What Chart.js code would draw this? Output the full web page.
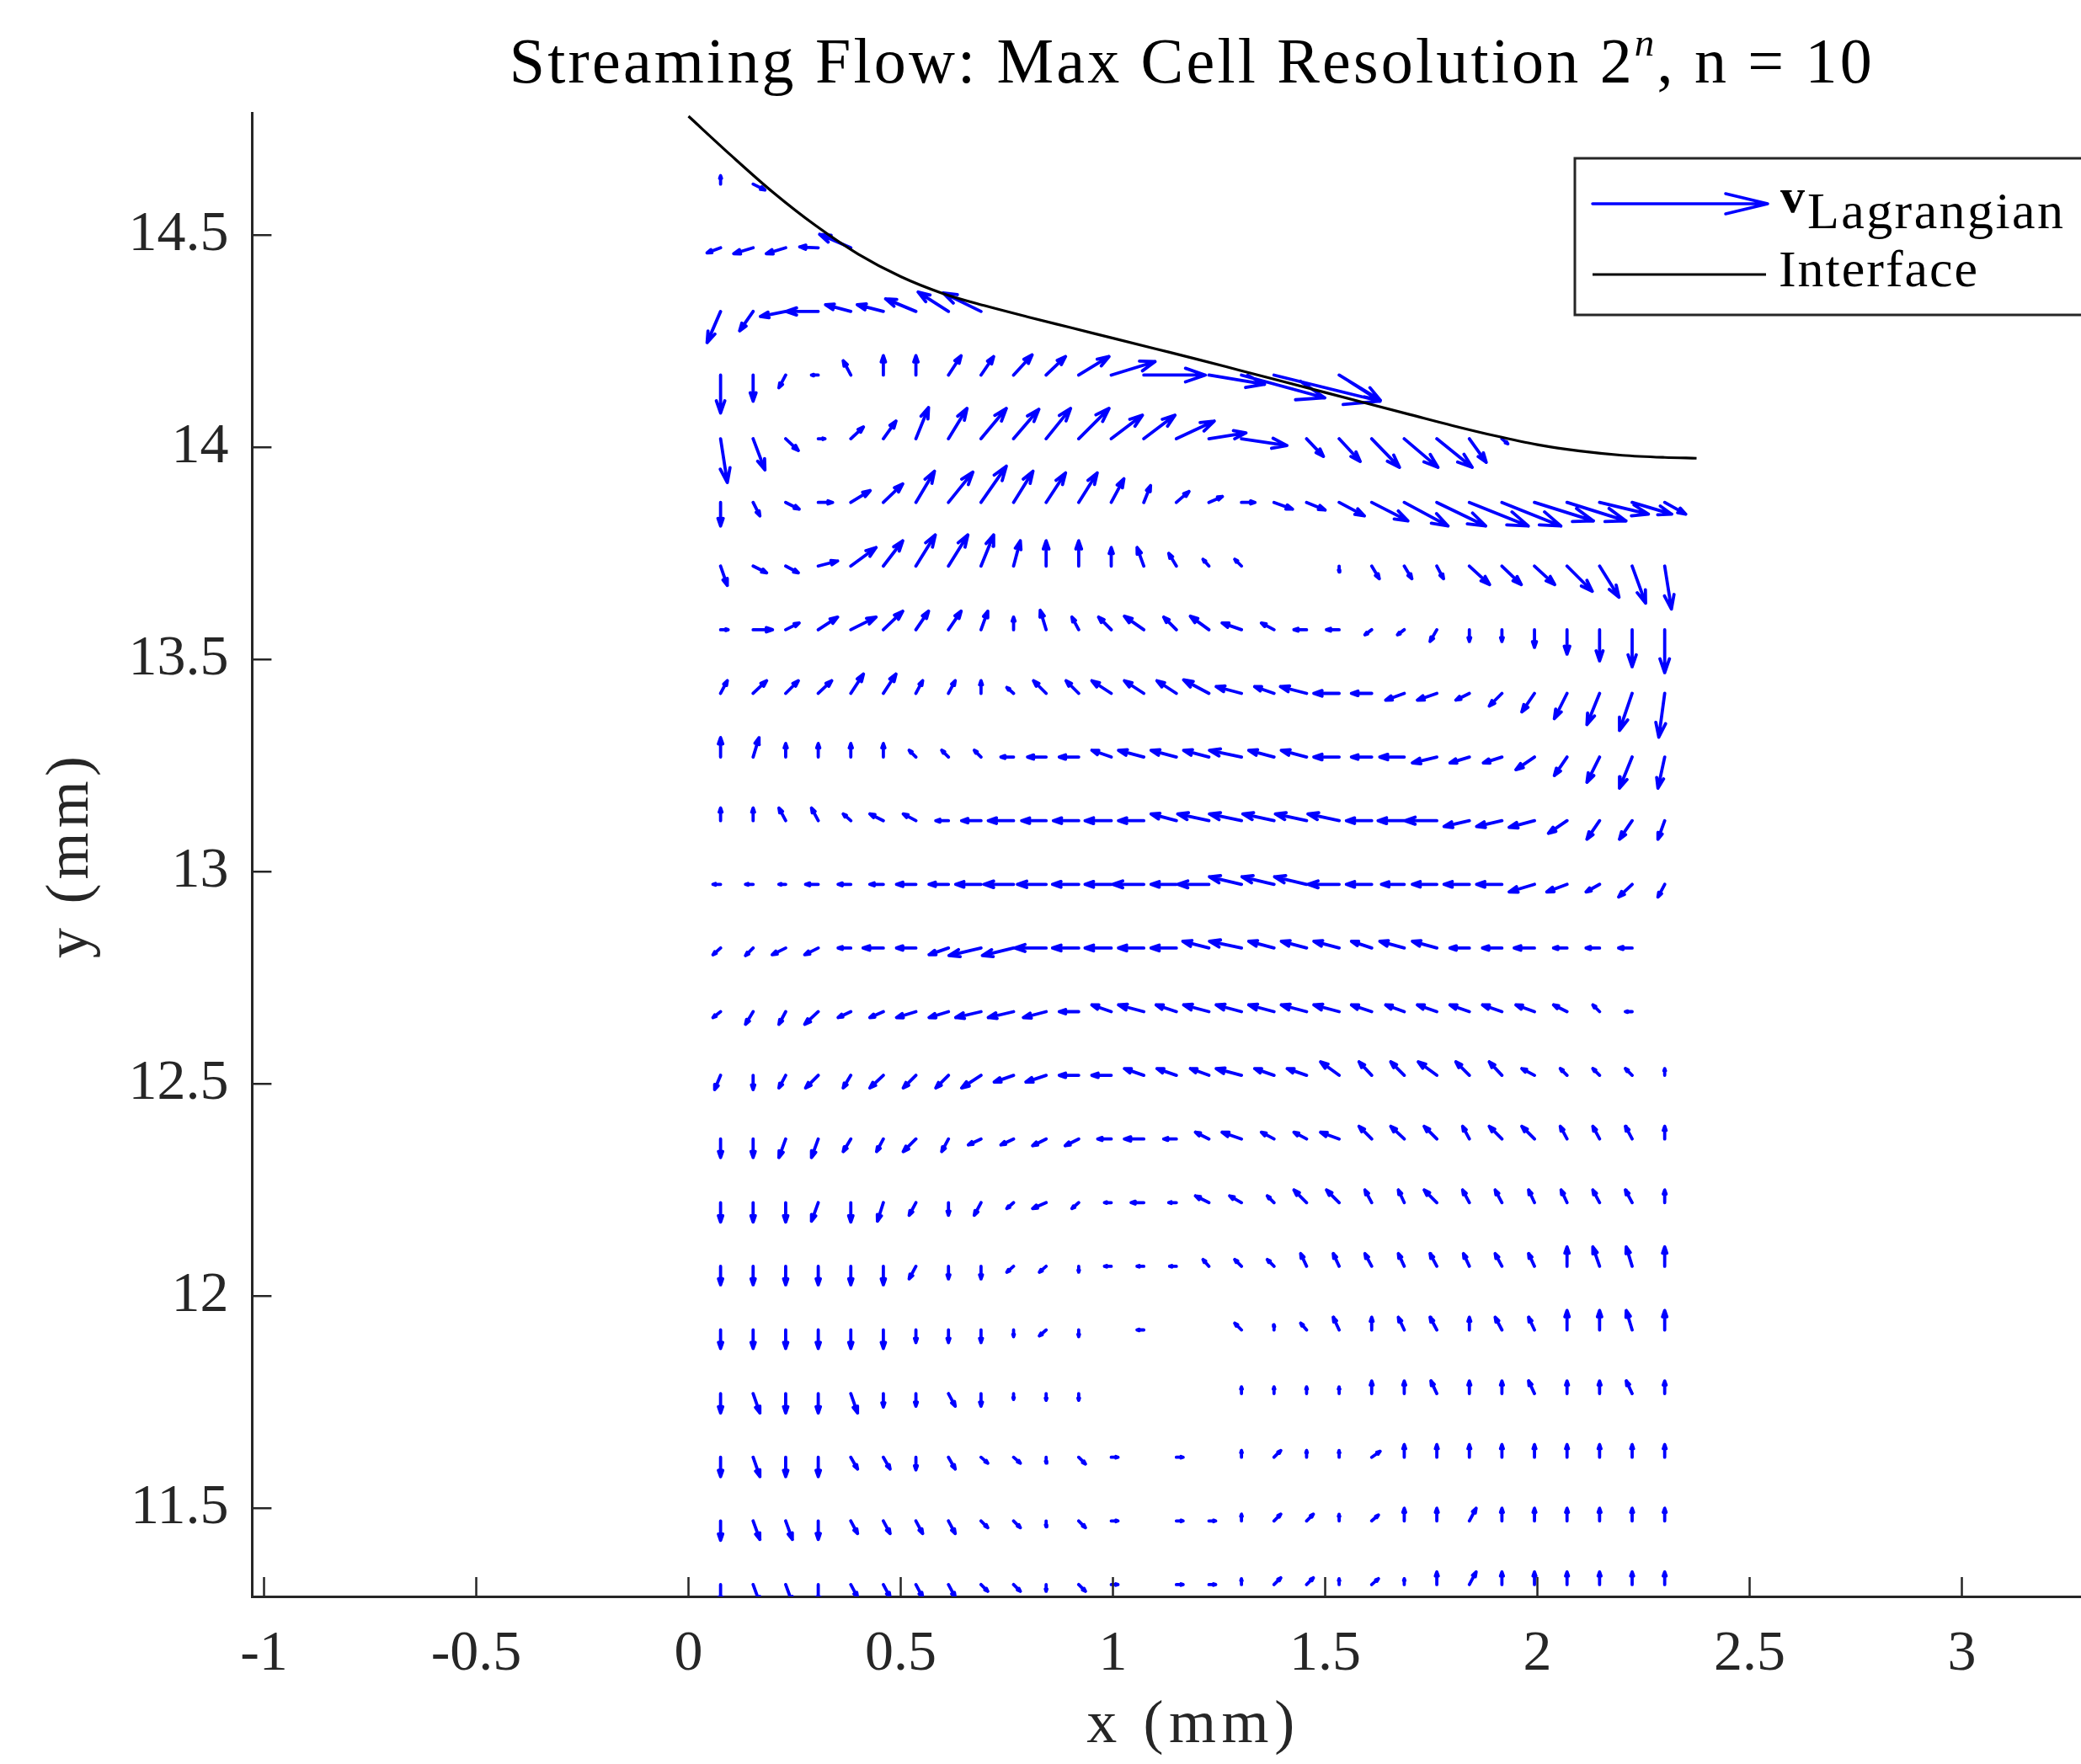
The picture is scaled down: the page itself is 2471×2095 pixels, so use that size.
<!DOCTYPE html>
<html><head><meta charset="utf-8"><title>Streaming Flow</title>
<script src="https://cdn.jsdelivr.net/npm/chart.js@4.4.1/dist/chart.umd.min.js"></script>
<style>html,body{margin:0;padding:0;overflow:hidden;background:#fff;}canvas{display:block;}</style>
</head><body>
<canvas id="chart" width="2528" height="2095"></canvas>
<script>
const _ = null;
// ---------------- DATA ----------------
// quiver grid (mm)
const colX = [0.0756,0.1523,0.2290,0.3057,0.3824,0.4591,0.5358,0.6125,0.6892,0.7659,
              0.8426,0.9193,0.9960,1.0727,1.1494,1.2261,1.3028,1.3795,1.4562,1.5329,
              1.6096,1.6863,1.7630,1.8397,1.9164,1.9931,2.0698,2.1465,2.2232,2.2999];
const rowY = [14.62,14.47,14.32,14.17,14.02,13.87,13.72,13.57,13.42,13.27,13.12,12.97,
              12.82,12.67,12.52,12.37,12.22,12.07,11.92,11.77,11.62,11.47,11.32];
// velocity components (arbitrary units), one line per row of rowY
const U = [
 [0,14,_,_,_,_,_,_,_,_, _,_,_,_,_,_,_,_,_,_, _,_,_,_,_,_,_,_,_,_],
 [-16,-23,-23,-22,-37,_,_,_,_,_, _,_,_,_,_,_,_,_,_,_, _,_,_,_,_,_,_,_,_,_],
 [-16,-16,-30,-38,-30,-31,-36,-36,-45,_, _,_,_,_,_,_,_,_,_,_, _,_,_,_,_,_,_,_,_,_],
 [0,0,-8,-8,-9,0,0,15,15,22, 23,36,52,73,_,66,99,126,_,49, _,_,_,_,_,_,_,_,_,_],
 [8,14,15,8,15,15,15,22,30,30, 29,36,37,37,45,44,54,_,20,25, 33,40,42,20,7,_,_,_,_,_],
 [0,8,16,17,23,23,22,29,30,23, 23,22,15,8,15,16,16,22,22,30, 43,52,58,70,70,70,70,58,47,25],
 [8,16,15,23,30,23,23,23,15,8, 0,0,0,-8,-9,-7,-8,_,_,0, 9,9,8,24,23,24,30,23,16,8],
 [9,23,16,23,30,23,15,15,8,0, -7,-8,-15,-23,-15,-22,-23,-15,-15,-15, -8,-8,-8,0,0,0,0,0,0,0],
 [8,16,15,16,15,15,8,8,0,-8, -15,-15,-23,-23,-23,-30,-30,-23,-31,-30, -24,-22,-23,-16,-15,-15,-15,-15,-15,-7],
 [0,7,0,0,0,0,-8,-8,-8,-15, -22,-23,-23,-30,-30,-30,-38,-30,-30,-30, -24,-29,-29,-23,-22,-22,-15,-15,-15,-8],
 [0,0,-8,-8,-9,-16,-15,-15,-23,-30, -29,-30,-31,-30,-30,-37,-38,-37,-37,-37, -30,-31,-38,-30,-30,-30,-22,-15,-15,-8],
 [-9,-9,-8,-15,-15,-16,-23,-23,-30,-35, -34,-31,-31,-37,-30,-37,-38,-38,-38,-37, -30,-27,-29,-30,-30,-30,-24,-16,-16,-8],
 [-9,-9,-16,-16,-15,-24,-23,-23,-38,-37, -37,-31,-31,-30,-30,-31,-38,-30,-30,-30, -24,-29,-29,-23,-23,-24,-16,-16,-16,_],
 [-9,-9,-8,-16,-15,-16,-23,-23,-30,-30, -27,-23,-23,-30,-24,-30,-30,-30,-30,-30, -24,-22,-23,-23,-23,-22,-16,-8,-8,_],
 [-7,0,-8,-15,-9,-16,-15,-15,-23,-23, -24,-23,-23,-23,-23,-22,-30,-23,-23,-22, -15,-16,-22,-16,-15,-15,-8,-8,-8,0],
 [0,0,-8,-8,-9,-8,-15,-8,-15,-15, -16,-16,-16,-23,-15,-16,-23,-15,-15,-22, -15,-16,-15,-8,-15,-15,-8,-8,-8,0],
 [0,0,0,-8,0,-7,-8,0,-8,-8, -16,-8,-8,-15,-9,-16,-14,-8,-15,-15, -8,-7,-15,-8,-8,-7,-7,-8,-8,0],
 [0,0,0,0,0,0,-8,0,0,-8, -8,0,-8,-8,-8,-7,-8,-8,-7,-7, -8,-7,-8,-7,-8,-7,0,-8,-7,0],
 [0,0,0,0,0,0,0,0,0,0, -8,0,_,-8,_,_,-8,0,-7,-7, 0,-7,-8,0,-8,-7,0,0,-7,0],
 [0,8,0,0,8,0,0,8,0,0, 0,0,_,_,_,_,0,0,0,0, 0,0,-7,0,0,-7,0,0,-7,0],
 [0,8,0,0,8,8,0,8,8,8, 0,8,8,_,8,_,0,8,0,0, 10,0,0,0,0,0,0,0,0,0],
 [0,8,8,0,8,8,8,8,8,8, 0,8,8,_,8,8,0,8,8,0, 8,0,0,8,0,0,0,0,0,0],
 [0,8,8,0,8,8,8,8,8,8, 0,8,8,_,8,8,0,8,8,0, 8,0,0,8,0,0,0,0,0,0]
];
const V = [
 [10,-7,_,_,_,_,_,_,_,_, _,_,_,_,_,_,_,_,_,_, _,_,_,_,_,_,_,_,_,_],
 [-6,-7,-7,1,16,_,_,_,_,_, _,_,_,_,_,_,_,_,_,_, _,_,_,_,_,_,_,_,_,_],
 [-37,-23,-6,0,8,8,15,23,22,_, _,_,_,_,_,_,_,_,_,_, _,_,_,_,_,_,_,_,_,_],
 [-45,-31,-15,0,17,23,23,23,22,24, 22,22,16,0,_,-11,-27,-31,_,-30, _,_,_,_,_,_,_,_,_,_],
 [-52,-37,-14,0,14,21,37,36,36,35, 36,36,28,28,21,7,-8,_,-21,-27, -34,-34,-34,-28,-6,_,_,_,_,_],
 [-28,-16,-8,0,14,22,37,36,43,37, 35,35,28,20,13,7,0,-8,-9,-16, -22,-28,-28,-28,-28,-22,-22,-14,-14,-14],
 [-23,-8,-8,6,22,30,37,37,37,30, 30,30,22,22,15,8,8,_,_,-7, -15,-15,-15,-22,-22,-22,-30,-37,-44,-51],
 [0,0,8,15,15,22,22,22,22,15, 23,15,15,16,15,16,8,8,0,0, -6,-6,-14,-14,-14,-21,-29,-37,-44,-51],
 [15,15,15,15,23,23,15,15,15,7, 15,15,15,15,15,16,8,8,8,0, 0,-8,-8,-8,-15,-22,-30,-37,-44,-52],
 [23,23,16,16,16,16,8,8,8,0, 0,0,8,8,8,8,8,8,8,0, 0,0,-7,-7,-7,-15,-22,-30,-37,-37],
 [15,15,15,15,8,8,8,0,0,0, 0,0,0,0,8,8,8,8,8,8, 0,0,0,-7,-7,-8,-15,-22,-22,-22],
 [0,0,0,0,0,0,0,0,0,0, 0,0,0,0,0,0,9,9,9,0, 0,0,0,0,0,-9,-9,-9,-15,-15],
 [-8,-9,-8,-8,0,0,0,-8,-9,-9, 0,0,0,0,0,8,8,8,8,8, 8,8,8,0,0,0,0,0,0,_],
 [-7,-15,-15,-15,-7,-7,-7,-7,-7,-7, -7,0,8,8,8,8,8,8,8,8, 8,8,8,8,8,8,8,8,0,_],
 [-17,-17,-15,-15,-15,-15,-15,-15,-15,-8, -8,0,0,8,8,8,8,8,8,16, 16,16,16,16,16,8,8,8,8,8],
 [-22,-22,-22,-22,-15,-15,-15,-15,-7,-7, -8,-8,0,0,0,8,8,8,8,8, 15,15,15,15,15,15,15,15,15,15],
 [-23,-23,-23,-22,-23,-22,-15,-15,-15,-7, -7,-7,0,0,0,8,8,8,15,15, 15,15,15,15,15,15,15,15,15,15],
 [-22,-22,-22,-22,-22,-22,-15,-15,-15,-7, -7,-7,0,0,0,8,8,8,15,15, 15,15,15,15,15,15,23,23,23,23],
 [-22,-22,-22,-22,-22,-22,-15,-15,-15,-8, -7,-8,_,0,_,_,8,6,8,15, 15,15,15,15,15,15,23,23,23,23],
 [-23,-23,-23,-23,-23,-16,-15,-15,-15,-7, -8,-8,_,_,_,_,8,8,8,8, 15,15,15,15,15,15,15,15,15,15],
 [-23,-23,-23,-23,-14,-14,-15,-14,-7,-7, -7,-8,0,_,0,_,8,8,8,8, 7,15,15,15,15,15,15,15,15,15],
 [-23,-22,-22,-22,-15,-15,-15,-15,-8,-8, -7,-8,0,_,0,0,8,8,8,8, 7,15,15,15,15,15,15,15,15,15],
 [-22,-22,-22,-22,-15,-15,-15,-15,-8,-8, -8,-8,0,_,0,0,7,8,8,7, 7,7,15,15,15,15,15,15,15,15]
];
// interface curve (mm)
const interfaceX = [0,0.1,0.2,0.3,0.4,0.5,0.6,0.7,0.8,0.9,1.0,1.1,1.2,1.3,1.4,1.5,
                    1.6,1.7,1.8,1.9,2.0,2.1,2.2,2.3,2.375];
const interfaceY = [14.780,14.688,14.600,14.522,14.455,14.402,14.362,14.333,14.307,14.282,14.257,14.232,
                    14.207,14.181,14.155,14.129,14.103,14.077,14.051,14.027,14.006,13.991,13.981,13.976,13.974];
const xTickValues = [-1,-0.5,0,0.5,1,1.5,2,2.5,3];
const yTickValues = [11.5,12,12.5,13,13.5,14,14.5];
const titleParts = ['Streaming Flow: Max Cell Resolution 2', 'n', ', n = 10'];
const legendTexts = ['v', 'Lagrangian', 'Interface'];
const xLabel = 'x (mm)', yLabel = 'y (mm)';
const QUIVER_SCALE = 1 / 504; // mm per velocity unit

// ---------------- LAYOUT ----------------
const W = 2528, H = 2095;
const PLOT_L = 299.4, PLOT_T = 134, PLOT_B = 1896;
const X_MIN = -1.028, Y_MIN = 11.292, Y_MAX = 14.788;
const PPU = (PLOT_B - PLOT_T) / (Y_MAX - Y_MIN);
const X_MAX = X_MIN + (W - PLOT_L) / PPU;
const AX = '#262626';
const SERIF = '"Liberation Serif", "Times New Roman", serif';

// ---------------- QUIVER GEOMETRY ----------------
function arrowPoints(x0, y0, u, v, out) {
  const dx = u * QUIVER_SCALE, dy = v * QUIVER_SCALE;
  const L = Math.hypot(dx, dy);
  if (!L) return;
  const tx = x0 + dx, ty = y0 + dy;
  const ux = dx / L, uy = dy / L;
  const h = 0.34 * L, th = 19 * Math.PI / 180, c = Math.cos(th), s = Math.sin(th);
  const b1x = tx - h * (ux * c - uy * s), b1y = ty - h * (ux * s + uy * c);
  const b2x = tx - h * (ux * c + uy * s), b2y = ty - h * (-ux * s + uy * c);
  out.push({x: x0, y: y0}, {x: tx, y: ty}, {x: tx, y: null},
           {x: b1x, y: b1y}, {x: tx, y: ty}, {x: b2x, y: b2y}, {x: b2x, y: null});
}
const quiverData = [];
rowY.forEach((y, j) => colX.forEach((x, i) => {
  const u = U[j][i], v = V[j][i];
  if (u === null || v === null) return;
  arrowPoints(x, y, u, v, quiverData);
}));
const interfaceData = interfaceX.map((x, i) => ({x, y: interfaceY[i]}));

// ---------------- TEXT HELPERS ----------------
function spaced(ctx, text, x, y, font, target) {
  ctx.font = font; ctx.letterSpacing = '0px';
  const w = ctx.measureText(text).width;
  const ls = (target != null && text.length > 1) ? (target - w) / (text.length - 1) : 0;
  ctx.letterSpacing = ls + 'px';
  ctx.textAlign = 'left';
  ctx.fillText(text, x, y);
  ctx.letterSpacing = '0px';
  return w + ls * text.length;
}

const deco = {
  id: 'deco',
  afterDraw(chart) {
    const ctx = chart.ctx, xs = chart.scales.x, ys = chart.scales.y, a = chart.chartArea;
    ctx.save();
    // inward ticks
    ctx.strokeStyle = AX; ctx.lineWidth = 2.5;
    ctx.beginPath();
    xs.ticks.forEach(t => { const p = xs.getPixelForValue(t.value); ctx.moveTo(p, a.bottom); ctx.lineTo(p, a.bottom - 23); });
    ys.ticks.forEach(t => { const p = ys.getPixelForValue(t.value); ctx.moveTo(a.left, p); ctx.lineTo(a.left + 23, p); });
    ctx.stroke();

    ctx.fillStyle = '#000'; ctx.textBaseline = 'alphabetic';
    // title with superscript
    const F = 76, target = 1618;
    const f1 = F + 'px ' + SERIF, fs = 'italic ' + Math.round(F * 0.62) + 'px ' + SERIF;
    ctx.letterSpacing = '0px';
    ctx.font = f1; const w1 = ctx.measureText(titleParts[0]).width, w3 = ctx.measureText(titleParts[2]).width;
    ctx.font = fs; const w2 = ctx.measureText(titleParts[1]).width;
    const n = titleParts[0].length + titleParts[1].length + titleParts[2].length;
    const ls = (target - (w1 + w2 + w3)) / (n - 1);
    let tx = (a.left + a.right) / 2 - target / 2;
    const base = 98;
    ctx.textAlign = 'left';
    ctx.font = f1; ctx.letterSpacing = ls + 'px'; ctx.fillText(titleParts[0], tx, base); tx += w1 + ls * titleParts[0].length;
    ctx.font = fs; ctx.fillText(titleParts[1], tx, base - 32); tx += w2 + ls;
    ctx.font = f1; ctx.fillText(titleParts[2], tx, base);
    ctx.letterSpacing = '0px';

    // axis labels
    ctx.fillStyle = AX;
    const xl = 247;
    spaced(ctx, xLabel, (a.left + a.right) / 2 - xl / 2, 2069, '72px ' + SERIF, xl);
    ctx.save();
    ctx.translate(104, (a.top + a.bottom) / 2 + 3);
    ctx.rotate(-Math.PI / 2);
    spaced(ctx, yLabel, -240 / 2, 0, '72px ' + SERIF, 240);
    ctx.restore();

    // legend
    ctx.fillStyle = '#fff'; ctx.strokeStyle = AX; ctx.lineWidth = 3;
    ctx.fillRect(1870, 188, 900, 186); ctx.strokeRect(1870, 188, 900, 186);
    ctx.strokeStyle = '#0000ff'; ctx.lineWidth = 3.5; ctx.lineCap = 'round'; ctx.lineJoin = 'round';
    ctx.beginPath(); ctx.moveTo(1891, 242); ctx.lineTo(2099, 242);
    ctx.moveTo(2049, 230); ctx.lineTo(2099, 242); ctx.lineTo(2049, 254); ctx.stroke();
    ctx.strokeStyle = '#000'; ctx.lineCap = 'butt'; ctx.lineWidth = 3;
    ctx.beginPath(); ctx.moveTo(1891, 326); ctx.lineTo(2097, 326); ctx.stroke();
    ctx.fillStyle = '#000';
    spaced(ctx, legendTexts[0], 2114, 252, 'bold 58px ' + SERIF, null);
    spaced(ctx, legendTexts[1], 2146, 271, '62px ' + SERIF, 304);
    spaced(ctx, legendTexts[2], 2112, 340, '62px ' + SERIF, 236);
    ctx.restore();
  }
};

const fmt = v => String(Math.round(v * 100) / 100);

new Chart(document.getElementById('chart'), {
  type: 'line',
  data: {
    datasets: [
      { label: 'Interface', data: interfaceData, borderColor: '#000000', borderWidth: 3.2,
        pointRadius: 0, cubicInterpolationMode: 'monotone', order: 0, fill: false },
      { label: 'v_Lagrangian', data: quiverData, borderColor: '#0000ff', borderWidth: 3.8,
        pointRadius: 0, tension: 0, spanGaps: false, order: 1, fill: false,
        borderCapStyle: 'round', borderJoinStyle: 'round' }
    ]
  },
  options: {
    responsive: false, animation: false, devicePixelRatio: 1,
    layout: { padding: { top: PLOT_T, left: 0, right: 0, bottom: 0 } },
    plugins: { legend: { display: false }, title: { display: false }, tooltip: { enabled: false } },
    events: [],
    scales: {
      x: {
        type: 'linear', min: X_MIN, max: X_MAX,
        grid: { display: false, drawTicks: false },
        border: { display: true, color: AX, width: 3 },
        ticks: { color: AX, font: { family: SERIF, size: 68 }, padding: 28, maxRotation: 0, autoSkip: false,
                 includeBounds: false, callback: v => fmt(v) },
        afterBuildTicks: s => { s.ticks = xTickValues.map(v => ({ value: v })); },
        afterFit: s => { s.height = H - PLOT_B; }
      },
      y: {
        type: 'linear', min: Y_MIN, max: Y_MAX,
        grid: { display: false, drawTicks: false },
        border: { display: true, color: AX, width: 3 },
        ticks: { color: AX, font: { family: SERIF, size: 68 }, padding: 28, autoSkip: false,
                 includeBounds: false, callback: v => fmt(v) },
        afterBuildTicks: s => { s.ticks = yTickValues.map(v => ({ value: v })); },
        afterFit: s => { s.width = PLOT_L; }
      }
    }
  },
  plugins: [deco]
});
</script>
</body></html>
